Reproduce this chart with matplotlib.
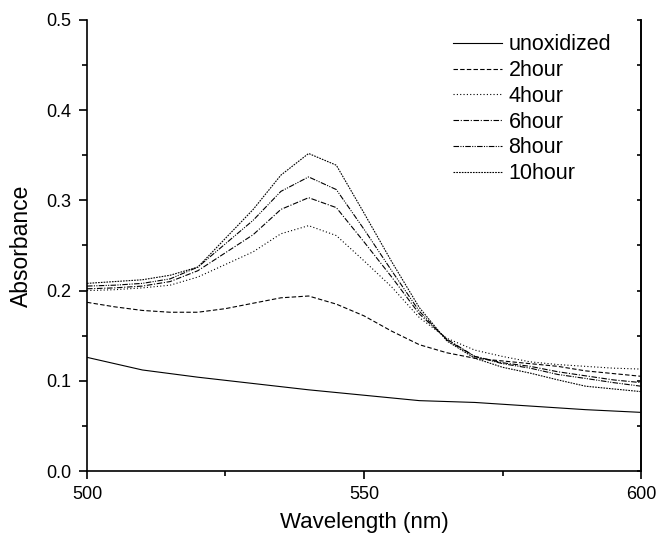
import matplotlib
matplotlib.use("Agg")
import matplotlib.pyplot as plt
from matplotlib.ticker import MultipleLocator

plt.rcParams['font.family'] = ['Liberation Sans', 'DejaVu Sans']

wl_unox = [500, 510, 520, 530, 540, 550, 560, 570, 580, 590, 600]
unoxidized = [0.126, 0.112, 0.104, 0.097, 0.090, 0.084, 0.078, 0.076, 0.072, 0.068, 0.065]

wavelength = [500, 505, 510, 515, 520, 525, 530, 535, 540, 545, 550, 555, 560,
              565, 570, 575, 580, 585, 590, 595, 600]
h2 = [0.187, 0.182, 0.178, 0.176, 0.176, 0.180, 0.186, 0.192, 0.194, 0.185, 0.172,
      0.155, 0.140, 0.131, 0.125, 0.122, 0.119, 0.116, 0.111, 0.108, 0.105]
h4 = [0.200, 0.201, 0.203, 0.206, 0.215, 0.229, 0.243, 0.263, 0.272, 0.261, 0.233,
      0.204, 0.170, 0.147, 0.134, 0.127, 0.121, 0.118, 0.116, 0.114, 0.113]
h6 = [0.202, 0.203, 0.205, 0.210, 0.222, 0.242, 0.262, 0.290, 0.303, 0.292, 0.254,
      0.215, 0.174, 0.146, 0.127, 0.120, 0.116, 0.110, 0.1055, 0.101, 0.098]
h8 = [0.205, 0.206, 0.208, 0.213, 0.226, 0.252, 0.278, 0.310, 0.326, 0.312, 0.268,
      0.222, 0.177, 0.145, 0.127, 0.119, 0.114, 0.107, 0.1026, 0.098, 0.094]
h10 = [0.208, 0.210, 0.212, 0.217, 0.226, 0.258, 0.290, 0.328, 0.352, 0.339, 0.286,
       0.232, 0.181, 0.144, 0.125, 0.115, 0.1085, 0.101, 0.094, 0.091, 0.088]

labels = ['unoxidized', '2hour', '4hour', '6hour', '8hour', '10hour']

fig = plt.figure(figsize=(6.58, 5.37), dpi=100)
ax = fig.add_axes([0.1322, 0.1229, 0.9742 - 0.1322, 0.9628 - 0.1229])

lw = 0.8
ax.plot(wl_unox, unoxidized, color='black', lw=lw, ls='-', label=labels[0])
ax.plot(wavelength, h2, color='black', lw=lw, ls=(0, (4, 2)), label=labels[1])
ax.plot(wavelength, h4, color='black', lw=lw, ls=(0, (1, 2)), label=labels[2])
ax.plot(wavelength, h6, color='black', lw=lw, ls=(0, (5, 1.5, 1, 1.5)), label=labels[3])
ax.plot(wavelength, h8, color='black', lw=lw, ls=(0, (5, 1.2, 1, 1.2, 1, 1.2)), label=labels[4])
ax.plot(wavelength, h10, color='black', lw=lw, ls=(0, (1.5, 1)), label=labels[5])

ax.set_xlim(500, 600)
ax.set_ylim(0.0, 0.5)
ax.xaxis.set_major_locator(MultipleLocator(50))
ax.xaxis.set_minor_locator(MultipleLocator(25))
ax.yaxis.set_major_locator(MultipleLocator(0.1))
ax.yaxis.set_minor_locator(MultipleLocator(0.05))
ax.yaxis.set_major_formatter(plt.FuncFormatter(lambda v, p: f"{v:.1f}"))

ax.spines['top'].set_visible(False)
for s in ['left', 'bottom', 'right']:
    ax.spines[s].set_linewidth(1.2)

ax.tick_params(axis='both', which='major', direction='out', length=6, width=1.2,
               labelsize=13, pad=5, top=False, right=False)
ax.tick_params(axis='both', which='minor', direction='out', length=3.5, width=1.2,
               top=False, right=False)

sec = ax.secondary_yaxis('right')
sec.yaxis.set_major_locator(MultipleLocator(0.05))
sec.tick_params(direction='in', length=3, width=1.2, labelright=False)
sec.spines['right'].set_linewidth(1.2)

ax.set_xlabel('Wavelength (nm)', fontsize=16, labelpad=6)
ax.set_ylabel('Absorbance', fontsize=16.5, labelpad=10)

leg = ax.legend(loc='upper left', frameon=False, fontsize=15.5, handlelength=2.3,
                handletextpad=0.3, labelspacing=0.22, borderpad=0, borderaxespad=0,
                bbox_to_anchor=(0.660, 0.968))

fig.savefig('out.png', dpi=100)
